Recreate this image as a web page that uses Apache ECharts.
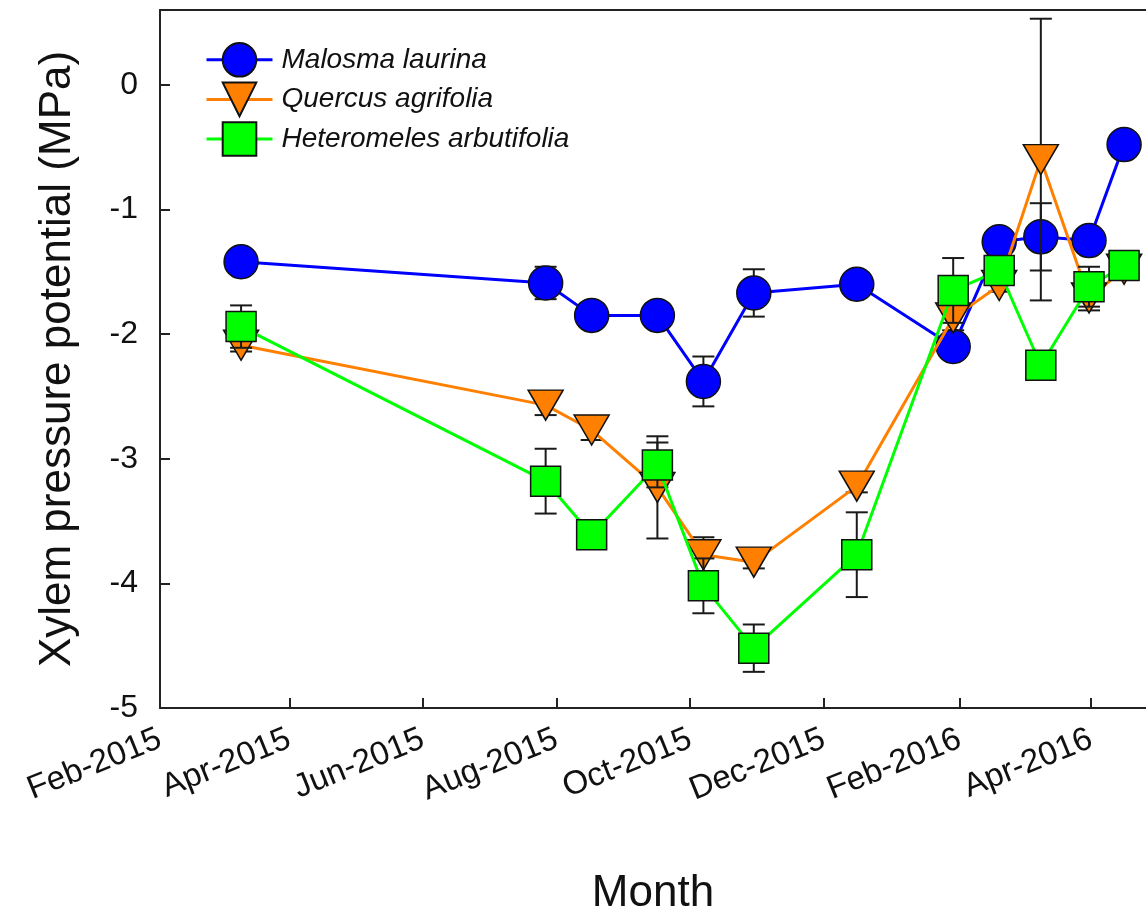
<!DOCTYPE html>
<html>
<head>
<meta charset="utf-8">
<script src="https://cdn.jsdelivr.net/npm/echarts@6/dist/echarts.min.js"></script>
<style>
html,body{margin:0;padding:0;background:#fff;}
#chart{width:1146px;height:915px;}
</style>
</head>
<body>
<div id="chart"></div>
<script>
// ---- Data ----
var sampleDates = ['2015-03-10','2015-07-27','2015-08-17','2015-09-16','2015-10-07','2015-10-30','2015-12-16','2016-01-29','2016-02-19','2016-03-09','2016-03-31','2016-04-16'];
var malosma     = [-1.42, -1.59, -1.85, -1.85, -2.38, -1.67, -1.60, -2.10, -1.26, -1.22, -1.25, -0.48];
var malosmaErr  = [0, 0.13, 0, 0, 0.20, 0.19, 0, 0, 0, 0.27, 0, 0];
var quercus     = [-2.09, -2.57, -2.77, -3.23, -3.77, -3.83, -3.22, -1.87, -1.61, -0.60, -1.71, -1.48];
var quercusErr  = [0.05, 0.08, 0.08, 0.41, 0.14, 0.05, 0.05, 0.10, 0.05, 1.13, 0.10, 0.05];
var hetero      = [-1.94, -3.18, -3.61, -3.05, -4.02, -4.52, -3.77, -1.65, -1.49, -2.25, -1.62, -1.45];
var heteroErr   = [0.17, 0.26, 0.07, 0.18, 0.22, 0.19, 0.34, 0.26, 0.05, 0.03, 0.16, 0.05];
var seriesNames = ['Malosma laurina', 'Quercus agrifolia', 'Heteromeles arbutifolia'];
var xTickDates  = ['2015-02-01','2015-04-01','2015-06-01','2015-08-01','2015-10-01','2015-12-01','2016-02-01','2016-04-01'];
var xTickLabels = ['Feb-2015','Apr-2015','Jun-2015','Aug-2015','Oct-2015','Dec-2015','Feb-2016','Apr-2016'];
var yTicks      = [-5, -4, -3, -2, -1, 0];
var xMinDate = '2015-02-01', xMaxDate = '2016-04-26';

function ts(s){ var p = s.split('-').map(Number); return Date.UTC(p[0], p[1]-1, p[2]); }
var xTickTs = xTickDates.map(ts);

function pts(vals){ return vals.map(function(v,i){ return [ts(sampleDates[i]), v]; }); }
function errs(vals, e){
  var out = [];
  vals.forEach(function(v,i){ if (e[i] > 0) out.push([ts(sampleDates[i]), v - e[i], v + e[i]]); });
  return out;
}
function errSeries(data, z){
  return {
    type: 'custom', z: z, silent: true,
    data: data,
    encode: { x: 0, y: [1, 2] },
    renderItem: function(params, api){
      var x = api.value(0);
      var lo = api.coord([x, api.value(1)]);
      var hi = api.coord([x, api.value(2)]);
      var hw = 11;
      var st = { stroke: '#1a1a1a', lineWidth: 2 };
      return { type: 'group', children: [
        { type: 'line', shape: { x1: lo[0], y1: lo[1], x2: hi[0], y2: hi[1] }, style: st },
        { type: 'line', shape: { x1: lo[0]-hw, y1: lo[1], x2: lo[0]+hw, y2: lo[1] }, style: st },
        { type: 'line', shape: { x1: hi[0]-hw, y1: hi[1], x2: hi[0]+hw, y2: hi[1] }, style: st }
      ]};
    }
  };
}
function lineSeries(name, data, color, symbol, size, rotate, z){
  return {
    name: name, type: 'line', z: z, data: data,
    symbol: symbol, symbolSize: size, symbolRotate: rotate,
    showAllSymbol: true,
    lineStyle: { color: color, width: 3 },
    itemStyle: { color: color, borderColor: '#111', borderWidth: 1.5 },
    emphasis: { disabled: true }
  };
}

var chart = echarts.init(document.getElementById('chart'));
var fontFam = 'Liberation Sans, Arial, sans-serif';
chart.setOption({
  animation: false,
  backgroundColor: '#fff',
  grid: { left: 160, top: 10, right: 0, bottom: 207, containLabel: false, outerBoundsMode: 'none' },
  legend: {
    left: 200, top: 37, orient: 'vertical',
    itemWidth: 66, itemHeight: 42, itemGap: 4,
    lineStyle: { width: 3 },
    textStyle: { fontFamily: fontFam, fontSize: 28, fontStyle: 'italic', color: '#111', padding: [0,0,0,4] },
    data: seriesNames
  },
  xAxis: [{
    type: 'value', min: ts(xMinDate), max: ts(xMaxDate),
    name: 'Month', nameLocation: 'middle', nameGap: 164,
    nameTextStyle: { fontFamily: fontFam, fontSize: 44, color: '#111' },
    axisLine: { show: true, onZero: false, lineStyle: { color: '#222', width: 2 } },
    axisTick: { show: true, inside: true, length: 10, lineStyle: { color: '#222', width: 2 }, customValues: xTickTs },
    axisLabel: {
      customValues: xTickTs, rotate: 22, margin: 30,
      fontFamily: fontFam, fontSize: 33, color: '#111',
      formatter: function(v){ var i = xTickTs.indexOf(v); return i >= 0 ? xTickLabels[i] : ''; }
    },
    splitLine: { show: false }
  }, {
    type: 'value', position: 'top', min: ts(xMinDate), max: ts(xMaxDate),
    axisLine: { show: true, onZero: false, lineStyle: { color: '#222', width: 2 } },
    axisTick: { show: false }, axisLabel: { show: false }, splitLine: { show: false }
  }],
  yAxis: {
    type: 'value', min: -5, max: 0.6,
    name: 'Xylem pressure potential (MPa)', nameLocation: 'middle', nameGap: 80,
    nameTextStyle: { fontFamily: fontFam, fontSize: 44, color: '#111' },
    axisLine: { show: true, onZero: false, lineStyle: { color: '#222', width: 2 } },
    axisTick: { show: true, inside: true, length: 10, lineStyle: { color: '#222', width: 2 }, customValues: yTicks },
    axisLabel: { customValues: yTicks, margin: 22, fontFamily: fontFam, fontSize: 32, color: '#111' },
    splitLine: { show: false }
  },
  series: [
    errSeries(errs(malosma, malosmaErr), 1),
    lineSeries(seriesNames[0], pts(malosma), '#0000ff', 'circle', 34, 0, 2),
    errSeries(errs(quercus, quercusErr), 3),
    lineSeries(seriesNames[1], pts(quercus), '#ff8000', 'triangle', [35, 30], 180, 4),
    errSeries(errs(hetero, heteroErr), 5),
    lineSeries(seriesNames[2], pts(hetero), '#00ff00', 'rect', 30, 0, 6)
  ]
});
</script>
</body>
</html>
